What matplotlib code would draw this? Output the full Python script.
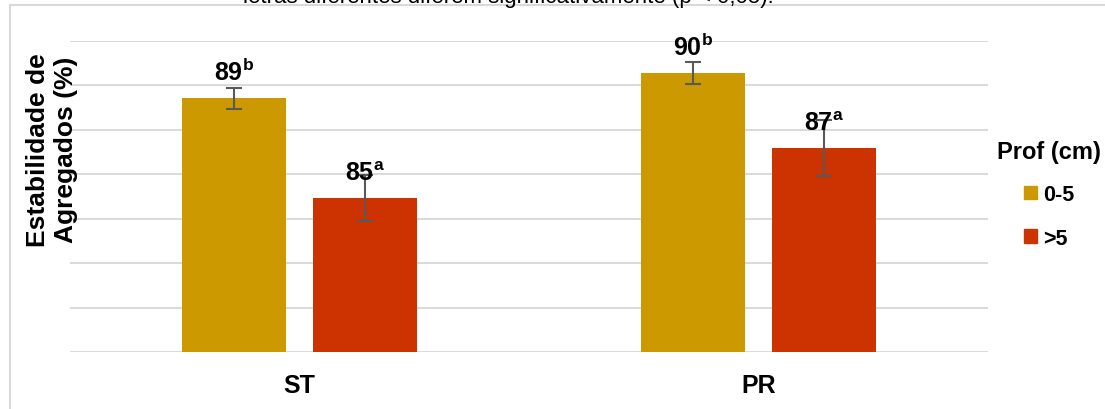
import matplotlib
matplotlib.use("Agg")
import matplotlib.pyplot as plt
import numpy as np
from matplotlib.patches import Patch
from matplotlib.lines import Line2D

plt.rcParams['font.family'] = ['Liberation Sans', 'DejaVu Sans']
plt.rcParams['mathtext.fontset'] = 'custom'
plt.rcParams['mathtext.rm'] = 'Liberation Sans'
plt.rcParams['mathtext.bf'] = 'Liberation Sans:bold'

# estabilidade de agregados (%) por sistema e profundidade
sistemas = ['ST', 'PR']
prof = ['0-5', '>5']
media_05 = [89, 90]
media_gt5 = [85, 87]
erro_05 = [0.42, 0.44]
erro_gt5 = [0.92, 1.14]
letra_05 = ['b', 'b']
letra_gt5 = ['a', 'a']

cor_05 = '#CC9900'
cor_gt5 = '#CC3300'

fig = plt.figure(figsize=(11.05, 4.10), dpi=100)
ax = fig.add_axes([70/1105, 1-353/410, (988-70)/1105, (353-42)/410])

x = np.arange(len(sistemas))
w = 0.2245
off = 0.1427
ymin, ymax = 78.8, 91.3

b1 = ax.bar(x - off, media_05, w, color=cor_05, zorder=3)
b2 = ax.bar(x + off, media_gt5, w, color=cor_gt5, zorder=3)
ax.errorbar(x - off, media_05, yerr=erro_05, fmt='none', ecolor='#595959',
            elinewidth=1.5, capsize=6, capthick=1.5, zorder=4)
ax.errorbar(x + off, media_gt5, yerr=erro_gt5, fmt='none', ecolor='#595959',
            elinewidth=1.5, capsize=6, capthick=1.5, zorder=4)

# rótulos com letras de significância
for xs, vals, letras in [(x - off, media_05, letra_05), (x + off, media_gt5, letra_gt5)]:
    for xi, v, l in zip(xs, vals, letras):
        ax.annotate(r'$\mathbf{%d^{%s}}$' % (v, l), (xi, v), xytext=(0, 13),
                    textcoords='offset points', ha='center', va='baseline',
                    fontsize=18, zorder=5)

ax.set_xlim(-0.5, 1.5)
ax.set_ylim(ymin, ymax)
ax.set_yticks(np.linspace(ymin, ymax, 8))
ax.set_yticklabels([])
ax.grid(axis='y', color='#D9D9D9', linewidth=1.4, zorder=0)
ax.tick_params(axis='both', length=0)
ax.set_xticks(x)
ax.set_xticklabels(sistemas, fontsize=18, fontweight='bold')
ax.tick_params(axis='x', pad=15)
for s in ax.spines.values():
    s.set_visible(False)

fig.text(52/1105, 1-150/410, 'Estabilidade de\nAgregados (%)', rotation=90,
         ha='center', va='center', fontsize=19, fontweight='bold',
         multialignment='center', linespacing=1.25)

handles = [Patch(color=cor_05), Patch(color=cor_gt5)]
leg = fig.legend(handles, prof, title='Prof (cm)', loc='upper center',
                 bbox_to_anchor=(1049/1105, 1-122/410), frameon=False,
                 prop={'size': 15.5, 'weight': 'bold'}, handlelength=0.6,
                 handleheight=0.6, handletextpad=0.3, labelspacing=1.05)
leg.get_title().set_fontsize(17)
leg.get_title().set_fontweight('bold')
leg._legend_box.sep = 15

# moldura do gráfico e nota cortada no topo
fig.add_artist(Line2D([10/1105, 10/1105], [0, 1-6/410], color='#D9D9D9', lw=1.5))
fig.add_artist(Line2D([10/1105, 1], [1-6/410, 1-6/410], color='#D9D9D9', lw=1.5))
fig.text(243/1105, 1-3/410, 'letras diferentes diferem significativamente (p < 0,05).',
         ha='left', va='baseline', fontsize=16)

fig.savefig('out.png', dpi=100)
